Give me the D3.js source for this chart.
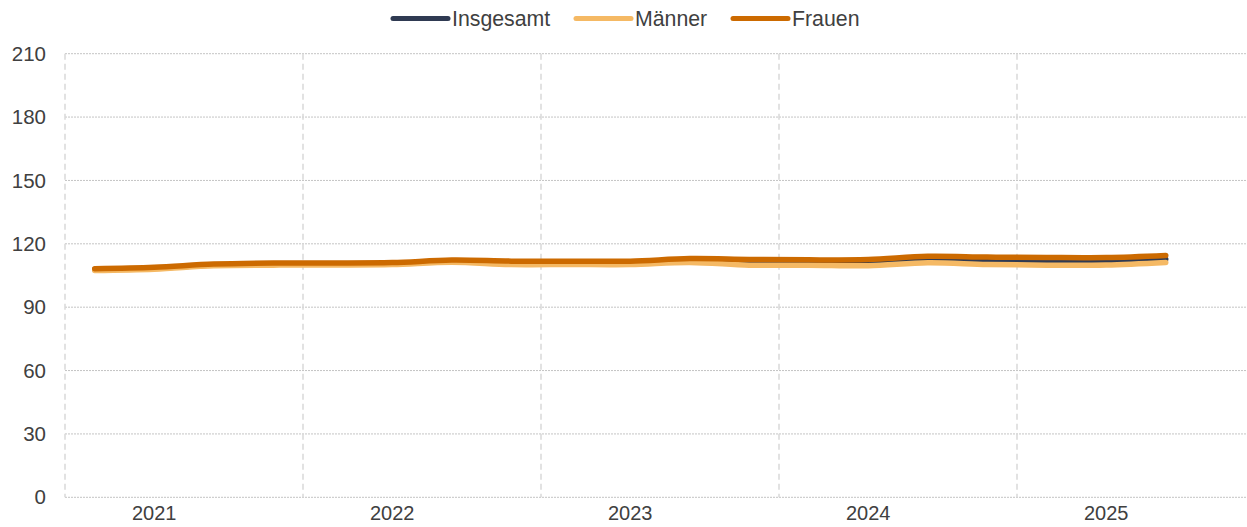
<!DOCTYPE html>
<html>
<head>
<meta charset="utf-8">
<script src="https://cdn.jsdelivr.net/npm/d3@7"></script>
<style>
  html, body { margin: 0; padding: 0; background: #fff; }
  svg { display: block; font-family: "Liberation Sans", Arial, sans-serif; }
</style>
</head>
<body>
<svg id="chart" width="1247" height="527"></svg>
<script>
// ---- data ----
const years = ["2021", "2022", "2023", "2024", "2025"];
const quarters = ["Q1", "Q2", "Q3", "Q4"];
const yTicks = [0, 30, 60, 90, 120, 150, 180, 210];
const seriesNames = ["Insgesamt", "Männer", "Frauen"];
const insgesamt = [107.8, 108.4, 110.0, 110.4, 110.4, 110.6, 111.8, 111.0, 111.0, 111.0, 112.1, 111.3, 111.2, 111.1, 112.4, 111.5, 111.5, 111.5, 112.7];
const maenner   = [107.4, 108.0, 109.6, 109.9, 110.0, 110.2, 111.3, 110.2, 110.2, 110.2, 111.2, 109.9, 109.9, 109.6, 111.0, 110.2, 109.9, 110.0, 111.2];
const frauen    = [108.2, 108.9, 110.4, 110.9, 110.9, 111.1, 112.3, 111.8, 111.8, 111.8, 113.0, 112.6, 112.4, 112.6, 114.1, 113.7, 113.5, 113.5, 114.5];
const colors = ["#2f3a52", "#f5b964", "#cc6a00"];

// ---- layout ----
const svg = d3.select("#chart");
const mLeft = 65, mRight = 1255, mTop = 53.7, mBottom = 497.3;

const periods = [];
years.forEach(yr => quarters.forEach(q => periods.push(yr + " " + q)));

const x = d3.scaleBand().domain(periods).range([mLeft, mRight]).padding(0);
const y = d3.scaleLinear().domain([0, 210]).range([mBottom, mTop]);

// horizontal gridlines
svg.append("g").selectAll("line").data(yTicks).join("line")
  .attr("x1", mLeft).attr("x2", mRight)
  .attr("y1", d => y(d)).attr("y2", d => y(d))
  .attr("stroke", "#c4c4c4").attr("stroke-width", 1)
  .attr("stroke-dasharray", "2,1");

// vertical dashed gridlines at year boundaries
svg.append("g").selectAll("line").data(years).join("line")
  .attr("x1", d => x(d + " Q1")).attr("x2", d => x(d + " Q1"))
  .attr("y1", mTop).attr("y2", mBottom)
  .attr("stroke", "#d9d9d9").attr("stroke-width", 1.5)
  .attr("stroke-dasharray", "6,4");

// y axis labels
const yAxis = d3.axisLeft(y).tickValues(yTicks).tickSize(0).tickPadding(0);
const gy = svg.append("g").attr("transform", `translate(46,0)`).call(yAxis);
gy.select(".domain").remove();
gy.selectAll("text").attr("font-size", 20.5).attr("fill", "#404040")
  .attr("font-family", "Liberation Sans, Arial, sans-serif");

// x axis labels (year labels)
const xAxis = d3.axisBottom(x).tickValues(years.map(d => d + " Q2"))
  .tickFormat(d => d.slice(0, 4)).tickSize(0).tickPadding(0);
const gx = svg.append("g").attr("transform", `translate(0,${mBottom + 8})`).call(xAxis);
gx.select(".domain").remove();
gx.selectAll("text").attr("font-size", 20).attr("fill", "#404040")
  .attr("font-family", "Liberation Sans, Arial, sans-serif");

// lines
const allSeries = [insgesamt, maenner, frauen];
const line = d3.line()
  .x((d, i) => x(periods[i]) + x.bandwidth() / 2)
  .y(d => y(d))
  .curve(d3.curveCatmullRom.alpha(0.5));

svg.append("g").selectAll("path").data(allSeries).join("path")
  .attr("d", d => line(d))
  .attr("fill", "none")
  .attr("stroke", (d, i) => colors[i])
  .attr("stroke-width", 5.5)
  .attr("stroke-linecap", "round")
  .attr("stroke-linejoin", "round");

// legend
const legendX = [393, 576, 733];
const lg = svg.append("g");
seriesNames.forEach((name, i) => {
  lg.append("line")
    .attr("x1", legendX[i]).attr("x2", legendX[i] + 55)
    .attr("y1", 18.5).attr("y2", 18.5)
    .attr("stroke", colors[i]).attr("stroke-width", 5)
    .attr("stroke-linecap", "round");
  lg.append("text")
    .attr("x", legendX[i] + 59).attr("y", 18.5)
    .attr("dy", "0.35em")
    .attr("font-size", 21.3).attr("fill", "#404040")
    .text(name);
});
</script>
</body>
</html>
